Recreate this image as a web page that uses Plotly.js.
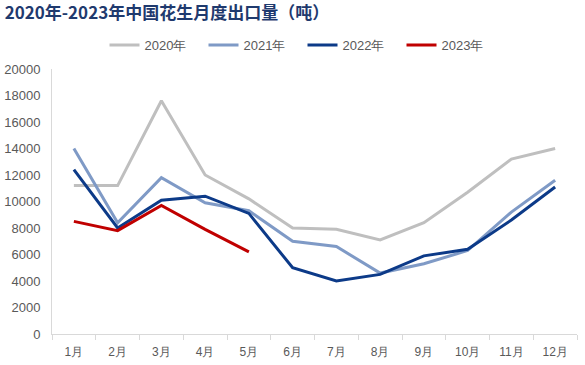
<!DOCTYPE html>
<html><head><meta charset="utf-8">
<script src="https://cdn.plot.ly/plotly-3.0.1.min.js"></script>
<style>html,body{margin:0;padding:0;background:#fff;}#chart{width:585px;height:365px;}</style>
</head><body><div id="chart"></div>
<script>
const months = ["1月","2月","3月","4月","5月","6月","7月","8月","9月","10月","11月","12月"];
const y2020 = [11200, 11200, 17600, 12000, 10200, 8000, 7900, 7100, 8400, 10700, 13200, 14000];
const y2021 = [14000, 8400, 11800, 9900, 9300, 7000, 6600, 4600, 5300, 6300, 9200, 11600];
const y2022 = [12400, 8000, 10100, 10400, 9100, 5000, 4000, 4500, 5900, 6400, 8600, 11100];
const y2023 = [8500, 7800, 9700, 7900, 6200];
const names = ["2020年","2021年","2022年","2023年"];
const colors = ["#BFBFBF","#7F9AC6","#0C3A88","#C00000"];
const series = [y2020, y2021, y2022, y2023];
const traces = series.map((s,i)=>({
  type:'scatter', mode:'lines', name:names[i],
  x: months.slice(0, s.length), y: s,
  line:{color:colors[i], width:3}
}));
const layout = {
  width:585, height:365,
  margin:{l:52, r:8, t:69, b:31},
  paper_bgcolor:'#fff', plot_bgcolor:'#fff',
  font:{family:'"Liberation Sans", Arial, sans-serif', color:'#595959', size:13},
  title:{text:'<b>2020年-2023年中国花生月度出口量（吨）</b>', x:0.008, xanchor:'left', y:0.98, yanchor:'top',
    font:{family:'"Noto Sans CJK SC", sans-serif', size:17, color:'#1F3A6E'}},
  showlegend:true,
  legend:{orientation:'h', x:0.1, xanchor:'left', y:1.09, yanchor:'middle',
    font:{size:13, color:'#595959'}, traceorder:'normal', entrywidth:54, entrywidthmode:'pixels'},
  xaxis:{type:'category', categoryorder:'array', categoryarray:months, range:[-0.5,11.5],
    showgrid:false, showline:true, linecolor:'#D9D9D9', linewidth:1,
    ticks:'outside', tickson:'boundaries', ticklen:5, tickcolor:'#D9D9D9',
    tickfont:{size:12, color:'#595959'}, ticklabelstandoff:7, fixedrange:true},
  yaxis:{range:[0,20000], dtick:2000, tickformat:'d', showgrid:false, showline:true, linecolor:'#D9D9D9', linewidth:1,
    ticks:'', zeroline:false, tickfont:{size:13, color:'#595959'}, ticklabelstandoff:8},
};
Plotly.newPlot('chart', traces, layout, {displayModeBar:false, staticPlot:true});
</script></body></html>
